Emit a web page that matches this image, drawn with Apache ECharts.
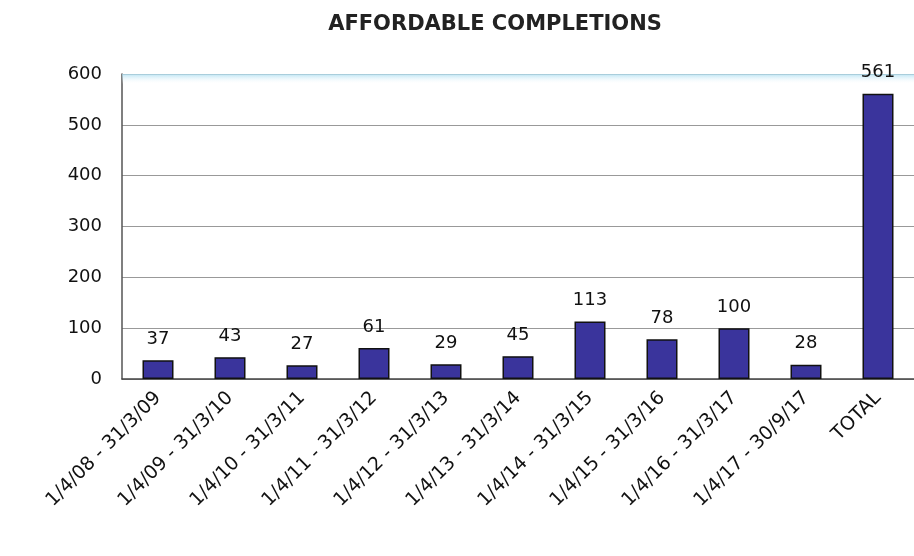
<!DOCTYPE html>
<html><head><meta charset="utf-8">
<script src="https://cdn.jsdelivr.net/npm/echarts@6/dist/echarts.min.js"></script>
<style>html,body{margin:0;padding:0;background:#fff}#c{width:914px;height:556px}</style>
</head><body><div id="c"></div>
<script>
const categories = ['1/4/08 - 31/3/09','1/4/09 - 31/3/10','1/4/10 - 31/3/11','1/4/11 - 31/3/12','1/4/12 - 31/3/13','1/4/13 - 31/3/14','1/4/14 - 31/3/15','1/4/15 - 31/3/16','1/4/16 - 31/3/17','1/4/17 - 30/9/17','TOTAL'];
const completions = [37,43,27,61,29,45,113,78,100,28,561];
const yTicks = [0,100,200,300,400,500,600];
const FONT = '"DejaVu Sans", sans-serif';
const chart = echarts.init(document.getElementById('c'));
chart.setOption({
  animation:false,
  backgroundColor:'#fff',
  title:{text:'AFFORDABLE COMPLETIONS',left:490,top:9,textAlign:'center',
    textStyle:{fontFamily:FONT,fontSize:21,fontWeight:'bold',color:'#222'}},
  grid:{left:122,right:-4,top:74,bottom:177,containLabel:false},
  xAxis:{type:'category',data:categories,
    axisLine:{lineStyle:{color:'#444',width:1.5}},
    axisTick:{show:false},
    axisLabel:{rotate:45,interval:0,fontFamily:FONT,fontSize:19,color:'#111',margin:16}},
  yAxis:{type:'value',min:0,max:600,interval:100,
    axisLine:{show:true,lineStyle:{color:'#555',width:1.5}},
    axisTick:{show:false},
    axisLabel:{fontFamily:FONT,fontSize:18,color:'#111',margin:20,
      formatter:v=>yTicks.includes(v)?String(v):''},
    splitLine:{lineStyle:{color:'#999',width:1}}},
  series:[{type:'bar',data:completions,barWidth:31,
    itemStyle:{color:'#3a349c',borderColor:'#111',borderWidth:1.5},
    label:{show:true,position:'top',distance:12,fontFamily:FONT,fontSize:18,color:'#111'},
    markArea:{silent:true,
      itemStyle:{color:{type:'linear',x:0,y:0,x2:0,y2:1,colorStops:[{offset:0,color:'rgba(170,220,240,0.8)'},{offset:1,color:'rgba(255,255,255,0)'}]}},
      data:[[{yAxis:580},{yAxis:600}]]}}]
});
</script></body></html>
